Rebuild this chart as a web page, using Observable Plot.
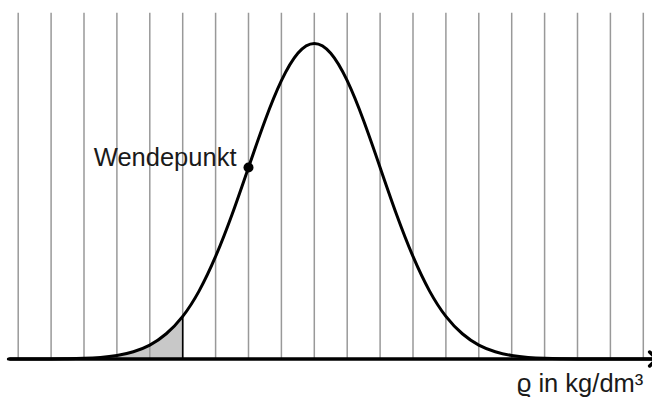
<!DOCTYPE html>
<html>
<head>
<meta charset="utf-8">
<script src="https://cdn.jsdelivr.net/npm/d3@7"></script>
<script src="https://cdn.jsdelivr.net/npm/@observablehq/plot@0.6"></script>
<style>
  html, body { margin: 0; padding: 0; background: #fff; }
  svg { display: block; }
</style>
</head>
<body>
<div id="chart"></div>
<script>
// Grid positions (vertical lines), in grid units
const gridX = [0,1,2,3,4,5,6,7,8,9,10,11,12,13,14,15,16,17,18,19];
// Curve sample positions (grid units) and relative heights
const curveX = [-0.3,0,0.5,1,1.5,2,2.5,3,3.5,4,4.5,5,5.5,6,6.5,7,7.5,8,8.5,9,9.5,10,10.5,11,11.5,12,12.5,13,13.5,14,14.5,15,15.5,16,16.5,17,17.5,18,18.5,19,19.3];
const curveY = [0,0,0,0.0003,0.0009,0.0022,0.005,0.011,0.023,0.044,0.080,0.135,0.216,0.325,0.458,0.607,0.755,0.882,0.969,1,0.969,0.882,0.755,0.607,0.458,0.325,0.216,0.135,0.080,0.044,0.023,0.011,0.005,0.0022,0.0009,0.0003,0,0,0,0,0];
// Shaded tail ends at this grid position
const shadeEnd = 5;
// Inflection point
const inflection = {x: 7, y: 0.607, label: "Wendepunkt"};
const axisLabel = "ϱ in kg/dm³";
const axisExtent = [-0.25, 19.3];

const curve = curveX.map((x, i) => ({x, y: curveY[i]}));
const shade = curve.filter(d => d.x <= shadeEnd);
const shadeTop = curve.find(d => d.x === shadeEnd).y;

const font = "'Liberation Sans', Arial, Helvetica, sans-serif";

const chart = Plot.plot({
  width: 652,
  height: 401,
  margin: 0,
  x: {domain: [0, 19], range: [17.7, 642.8], axis: null},
  y: {domain: [0, 1], range: [358.5, 43], axis: null},
  style: {fontFamily: font, background: "#fff"},
  marks: [
    Plot.areaY(shade, {x: "x", y: "y", fill: "#c8c8c8", curve: "natural"}),
    Plot.ruleX(gridX, {x: d => d, y1: 0, y2: 1.096, stroke: "#999", strokeWidth: 1.5}),
    Plot.ruleX([shadeEnd], {x: d => d, y1: 0, y2: shadeTop, stroke: "#000", strokeWidth: 1.6}),
    Plot.line([{x: axisExtent[0], y: 0}, {x: axisExtent[1], y: 0}], {x: "x", y: "y", stroke: "#000", strokeWidth: 3.5, markerEnd: "arrow"}),
    Plot.line(curve, {x: "x", y: "y", stroke: "#000", strokeWidth: 3, curve: "natural"}),
    Plot.dot([inflection], {x: "x", y: "y", r: 5, fill: "#000", stroke: "none"}),
    Plot.text([inflection], {x: "x", y: "y", text: "label", textAnchor: "end", dx: -12, dy: -10, fontSize: 25.5, fill: "#1a1a1a"}),
    Plot.text([axisLabel], {x: 19, y: 0, text: d => d, textAnchor: "end", dy: 25.3, fontSize: 25.5, fill: "#1a1a1a"})
  ]
});
document.getElementById("chart").appendChild(chart);
</script>
</body>
</html>
